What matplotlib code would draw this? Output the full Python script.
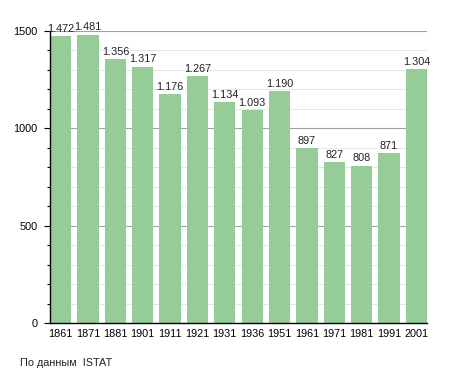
import matplotlib
matplotlib.use('Agg')
import matplotlib.pyplot as plt
from matplotlib.ticker import MultipleLocator

years = ['1861', '1871', '1881', '1901', '1911', '1921', '1931',
         '1936', '1951', '1961', '1971', '1981', '1991', '2001']
population = [1472, 1481, 1356, 1317, 1176, 1267, 1134,
              1093, 1190, 897, 827, 808, 871, 1304]

plt.rcParams['font.family'] = ['Liberation Sans', 'DejaVu Sans']

fig = plt.figure(figsize=(4.55, 3.73), dpi=100)
ax = fig.add_axes([50 / 455, 1 - 323 / 373, 377 / 455, 292 / 373])

w = 0.78
x = range(len(years))
ax.bar(x, population, width=w, color='#97cb97', zorder=2)

for xi, v in zip(x, population):
    lbl = f'{v:,}'.replace(',', '.')
    ax.text(xi, v + 12, lbl, ha='center', va='bottom', fontsize=7.8,
            color='#222222', clip_on=False, zorder=3)

ax.set_xlim(-w / 2, len(years) - 1 + w / 2)
ax.set_ylim(0, 1500)
ax.set_xticks(list(x))
ax.set_xticklabels(years, fontsize=7.8)
ax.tick_params(axis='x', length=0, pad=4)

ax.yaxis.set_major_locator(MultipleLocator(500))
ax.yaxis.set_minor_locator(MultipleLocator(100))
ax.tick_params(axis='y', which='major', length=4, width=0.8, pad=5, labelsize=7.8)
ax.tick_params(axis='y', which='minor', length=2.5, width=0.8)

ax.grid(axis='y', which='major', color='#a0a0a0', linewidth=0.8, zorder=0)
ax.grid(axis='y', which='minor', color='#e6e6e6', linewidth=0.7, zorder=0)
ax.set_axisbelow(True)

for side in ['top', 'right']:
    ax.spines[side].set_visible(False)
ax.spines['left'].set_linewidth(1.0)
ax.spines['bottom'].set_linewidth(1.0)

fig.text(20 / 455, 1 - 363 / 373, 'По данным  ISTAT', fontsize=7.8,
         ha='left', va='center', color='#222222')

fig.savefig('out.png', dpi=100, facecolor='white')
